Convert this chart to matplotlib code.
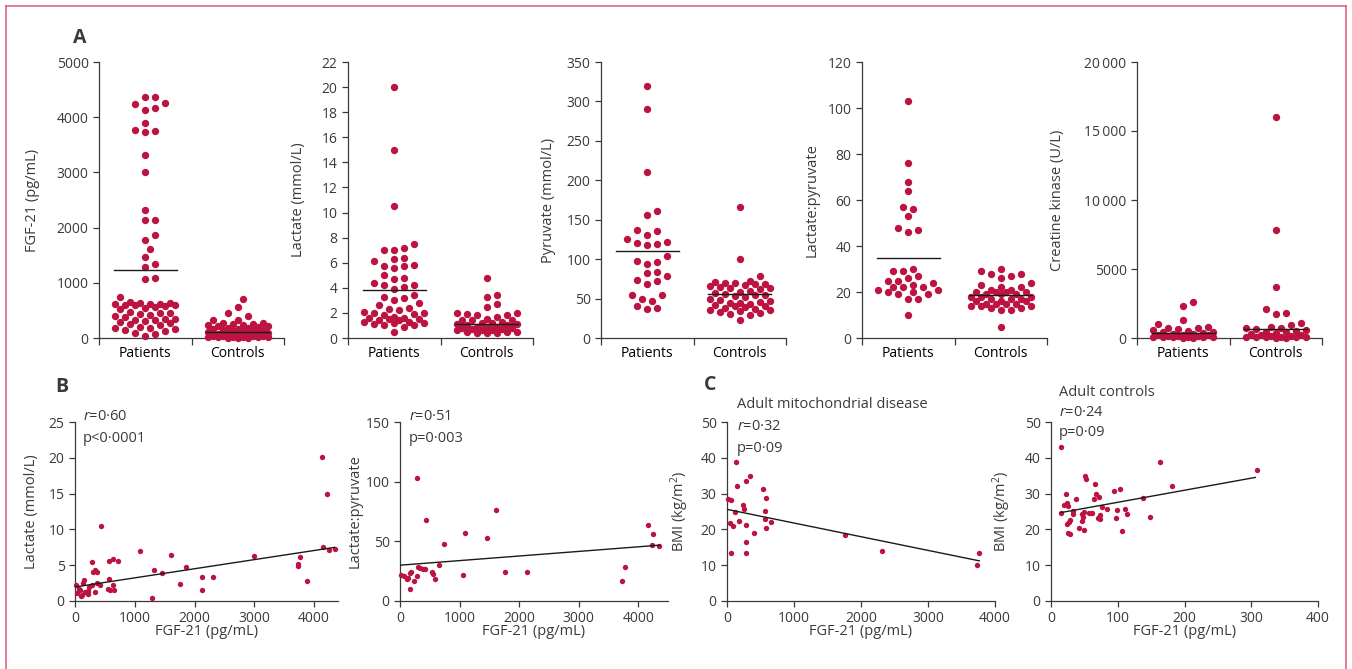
import numpy as np
import matplotlib.pyplot as plt
from matplotlib.lines import Line2D

plt.rcParams['font.family'] = ['Open Sans', 'DejaVu Sans']
plt.rcParams['mathtext.fontset'] = 'custom'
plt.rcParams['mathtext.rm'] = 'Open Sans'
plt.rcParams['mathtext.it'] = 'Open Sans:italic'
plt.rcParams['font.size'] = 10

W, H = 1352, 669
DOT = '#BC1340'
INK = '#3a3a3a'
FRAME = '#E2587A'

groups = ['Patients', 'Controls']

# ---- panel A data ----
fgf_pat = [4249, 4357, 4369, 4159, 4129, 4231, 3900, 3768, 3732, 3750, 3317, 2999,
           2326, 2133, 2145, 1869, 1773, 1611, 1472, 1334, 1286, 1076, 1088,
           734, 650, 640, 630, 625, 620, 610, 600, 595, 590, 580, 560, 540, 520,
           480, 460, 450, 430, 410, 400, 380, 350, 340, 330, 320, 300, 290, 280,
           260, 240, 200, 190, 180, 160, 140, 120, 90, 70, 40]
fgf_ctl = [703, 553, 451, 403, 330, 330, 270, 265, 260, 250, 240, 230, 220, 210,
           200, 190, 180, 170, 160, 150, 140, 130, 120, 110, 100, 90, 80, 70, 60,
           55, 50, 45, 40, 35, 30, 25, 20, 20, 15, 10, 10, 5, 5, 0]
fgf_means = [1238, 102]

lac_pat = [20, 15, 10.5, 7.5, 7.2, 7.0, 7.0, 6.4, 6.3, 6.1, 5.8, 5.7, 5.6, 5.7, 5.0,
           4.8, 4.7, 4.4, 4.2, 4.2, 4.1, 3.9, 3.4, 3.3, 3.2, 3.0, 2.8, 2.6, 2.4, 2.3,
           2.2, 2.1, 2.0, 2.0, 1.9, 1.8, 1.7, 1.6, 1.6, 1.5, 1.5, 1.4, 1.4, 1.3, 1.3,
           1.2, 1.2, 1.1, 1.0, 1.0, 0.9, 0.5]
lac_ctl = [4.8, 3.4, 3.3, 2.7, 2.5, 2.0, 2.0, 1.9, 1.8, 1.8, 1.7, 1.5, 1.4, 1.4, 1.4,
           1.3, 1.2, 1.2, 1.1, 1.1, 1.0, 1.0, 0.9, 0.9, 0.9, 0.8, 0.8, 0.7, 0.7, 0.6,
           0.6, 0.6, 0.5, 0.5, 0.5, 0.4, 0.4, 0.4]
lac_means = [3.85, 1.15]

pyr_pat = [320, 290, 210, 161, 156, 137, 136, 130, 125, 122, 121, 119, 118, 104, 98,
           97, 94, 84, 82, 78, 73, 72, 69, 55, 54, 50, 47, 40, 38, 37]
pyr_ctl = [166, 100, 78, 72, 71, 70, 70, 69, 68, 67, 66, 65, 64, 63, 62, 60, 58, 57,
           56, 55, 54, 53, 52, 50, 48, 47, 46, 45, 44, 43, 42, 41, 40, 39, 38, 37,
           36, 35, 34, 33, 32, 30, 29, 23]
pyr_means = [110, 56]

lp_pat = [103, 76, 68, 64, 57, 56, 53, 48, 47, 46, 30, 29, 29, 27, 26, 25, 25, 24,
          23, 22, 22, 22, 21, 21, 20, 20, 19, 19, 17, 17, 10]
lp_ctl = [30, 29, 28, 28, 27, 26, 24, 23, 22, 22, 21, 21, 20, 20, 20, 20, 19, 19, 19,
          18, 18, 18, 17, 17, 17, 16, 16, 16, 15, 15, 15, 15, 14, 14, 14, 13, 13, 12,
          12, 5]
lp_means = [34.7, 18.5]

ck_pat = [2600, 2300, 1300, 1000, 800, 750, 700, 650, 600, 500, 450, 400, 350, 300,
          300, 250, 200, 200, 150, 150, 120, 100, 100, 80, 60, 50, 40, 30, 20]
ck_ctl = [16000, 7800, 3700, 2100, 1800, 1750, 1100, 950, 800, 750, 700, 650, 600,
          500, 450, 400, 350, 300, 250, 200, 150, 120, 100, 100, 80, 60, 50, 40, 30, 20]
ck_means = [384, 624]

# ---- panel B data ----
b1_fgf = [4129, 4224, 4151, 4252, 4353, 3759, 3737, 3731, 3888, 2993, 1857, 1606,
          1460, 1326, 1281, 1762, 2120, 2120, 2316, 1085, 722, 436, 576, 632, 285,
          297, 342, 364, 571, 420, 375, 560, 587, 632, 655, 241, 285, 336, 151, 129,
          213, 84, 39, 17, 62, 112, 168, 224, 95]
b1_lac = [20.1, 15.0, 7.5, 7.1, 7.2, 6.1, 5.1, 4.9, 2.8, 6.3, 4.7, 6.4, 3.9, 4.3,
          0.47, 2.4, 3.4, 1.6, 3.3, 7.0, 5.65, 10.5, 5.6, 5.8, 5.5, 4.1, 4.3, 4.1,
          3.1, 2.3, 2.5, 1.7, 1.5, 2.3, 1.5, 2.0, 2.2, 1.3, 3.0, 2.5, 1.4, 1.5, 1.1,
          2.2, 1.7, 0.9, 1.3, 1.0, 0.75]
b1_fit = [1.96, 0.001273]
b1_fit_x = [0, 4340]

b2_fgf = [17, 67, 112, 140, 168, 185, 163, 236, 292, 303, 337, 393, 426, 533, 561,
          589, 662, 735, 438, 286, 1094, 1060, 1464, 1610, 1762, 2132, 3736, 3776,
          4163, 4240, 4230, 4350]
b2_lp = [21.9, 21, 18.8, 19.6, 23.8, 24.7, 9.8, 16.8, 21, 28.6, 27.8, 26.6, 26.4,
         24.7, 23, 18.8, 30, 47.7, 67.8, 103, 57, 22, 52.7, 76, 24.7, 24.7, 16.5, 28.6,
         64, 56, 47, 46]
b2_fit = [30.0, 0.00385]
b2_fit_x = [0, 4360]

# ---- panel C data ----
c1_fgf = [20, 55, 40, 90, 65, 120, 130, 154, 179, 239, 249, 289, 289, 279, 289, 339,
          398, 538, 563, 573, 588, 588, 658, 1758, 2316, 3736, 3766]
c1_bmi = [28.6, 28.1, 21.7, 21.0, 13.4, 25.0, 38.8, 32.1, 22.4, 26.8, 25.6, 33.5,
          21.1, 16.4, 13.5, 35.0, 19.0, 31.3, 25.1, 23.0, 28.8, 20.4, 22.0, 18.4,
          13.9, 10.1, 13.3]
c1_fit = [25.6, -0.00382]
c1_fit_x = [0, 3766]

c2_fgf = [15, 15, 20, 22, 24, 26, 24, 25, 27, 29, 29, 33, 33, 37, 42, 46, 47, 48, 49,
          50, 51, 53, 57, 61, 64, 66, 67, 70, 72, 74, 74, 76, 84, 95, 97, 99, 104,
          106, 111, 114, 138, 148, 163, 181, 308]
c2_bmi = [43.1, 24.5, 26.8, 29.8, 27.5, 26.4, 21.5, 19.1, 22.1, 22.6, 18.7, 25.1,
          24.4, 28.5, 20.5, 22.3, 24.4, 23.6, 19.8, 25.0, 34.8, 34.2, 24.5, 24.5,
          28.5, 32.7, 29.8, 23.3, 29.0, 24.1, 23.0, 26.3, 25.6, 30.6, 23.1, 25.5,
          31.4, 19.6, 25.6, 24.4, 28.9, 23.5, 38.8, 32.1, 36.5]
c2_fit = [24.2, 0.0337]
c2_fit_x = [15, 306]


def swarm(vals, center, ylim, h_px, unit_px, step_px=5.0, diam_px=8.5, kmax=6):
    """simple beeswarm: offsets on a horizontal grid, pixel-space collision check"""
    vals = np.asarray(vals, float)
    ypx = (vals - ylim[0]) / (ylim[1] - ylim[0]) * h_px
    cands = [0]
    for k in range(1, kmax + 1):
        cands += [k, -k]
    placed = []
    xs = np.zeros(len(vals))
    for i in np.argsort(vals):
        best, best_d = 0, -1.0
        for k in cands:
            x = k * step_px
            d = min([np.hypot(x - px, ypx[i] - py) for px, py in placed], default=1e9)
            if d >= diam_px:
                best = x
                break
            if d > best_d:
                best_d, best = d, x
        placed.append((best, ypx[i]))
        xs[i] = center + best / unit_px
    return xs


def px_axes(left, top, right, bottom):
    return fig.add_axes([left / W, 1 - bottom / H, (right - left) / W, (bottom - top) / H])


def style(ax):
    for s in ['top', 'right']:
        ax.spines[s].set_visible(False)
    for s in ['left', 'bottom']:
        ax.spines[s].set_color(INK)
        ax.spines[s].set_linewidth(0.9)
    ax.tick_params(colors=INK, width=0.9, length=4, direction='out', labelsize=10,
                   labelcolor=INK)
    ax.patch.set_alpha(0)


fig = plt.figure(figsize=(W / 100, H / 100), dpi=100)

# frame
for xs_, ys_ in [([6, 6], [6, H + 10]), ([6, 1346], [6, 6]), ([1346, 1346], [6, H + 10])]:
    fig.add_artist(Line2D([x / W for x in xs_], [1 - y / H for y in ys_],
                          color=FRAME, lw=1.1, transform=fig.transFigure))

# ---- panel A ----
a_specs = [
    (fgf_pat, fgf_ctl, fgf_means, 'FGF-21 (pg/mL)', 5000, 1000, 99, 32),
    (lac_pat, lac_ctl, lac_means, 'Lactate (mmol/L)', 22, 2, 348, 298),
    (pyr_pat, pyr_ctl, pyr_means, 'Pyruvate (mmol/L)', 350, 50, 601, 548),
    (lp_pat, lp_ctl, lp_means, 'Lactate:pyruvate', 120, 20, 862, 812),
    (ck_pat, ck_ctl, ck_means, 'Creatine kinase (U/L)', 20000, 5000, 1137, 1057),
]
a_top, a_bot, a_w = 62, 338, 185
for pat, ctl, means, lab, ymax, step, left, lab_x in a_specs:
    ax = px_axes(left, a_top, left + a_w, a_bot)
    style(ax)
    ax.set_xlim(0, 2)
    ax.set_ylim(0, ymax)
    unit = a_w / 2.0
    for j, vals in enumerate([pat, ctl]):
        xs = swarm(vals, 0.5 + j, (0, ymax), a_bot - a_top, unit)
        ax.scatter(xs, vals, s=28, color=DOT, lw=0, zorder=3, clip_on=False)
        ax.plot([j + 0.16, j + 0.84], [means[j], means[j]], color='#1a1a1a', lw=1.0,
                zorder=4)
    ax.set_xticks([0, 1, 2])
    ax.set_xticklabels([])
    ax.set_xticks([0.5, 1.5], minor=True)
    ax.set_xticklabels(groups, minor=True)
    ax.tick_params(axis='x', which='minor', length=0, pad=6)
    ax.tick_params(axis='x', which='major', length=5)
    yt = np.arange(0, ymax + step / 2, step)
    ax.set_yticks(yt)
    if ymax >= 10000:
        ax.set_yticklabels([f'{int(v):,}'.replace(',', '\u2009') if v >= 10000
                            else f'{int(v)}' for v in yt])
    ax.set_ylabel(lab, fontsize=10.5, color=INK)
    ax.yaxis.set_label_coords((lab_x + 8 - left) / a_w, 0.5)

# ---- panels B and C ----
sc_top, sc_bot = 422, 601
sc_specs = [
    (b1_fgf, b1_lac, b1_fit, b1_fit_x, 75, 338, 4400, 25, 5, 'Lactate (mmol/L)', 31),
    (b2_fgf, b2_lp, b2_fit, b2_fit_x, 400, 668, 4500, 150, 50, 'Lactate:pyruvate', 355),
    (c1_fgf, c1_bmi, c1_fit, c1_fit_x, 727, 995, 4000, 50, 10, 'BMI (kg/m$^2$)', 683),
    (c2_fgf, c2_bmi, c2_fit, c2_fit_x, 1051, 1318, 400, 50, 10, 'BMI (kg/m$^2$)', 1005),
]
for xv, yv, fit, fit_x, left, right, xmax, ymax, ystep, lab, lab_x in sc_specs:
    ax = px_axes(left, sc_top, right, sc_bot)
    style(ax)
    ax.set_xlim(0, xmax)
    ax.set_ylim(0, ymax)
    ax.scatter(xv, yv, s=15, color=DOT, lw=0, zorder=3, clip_on=False)
    fx = np.array(fit_x, float)
    ax.plot(fx, fit[0] + fit[1] * fx, color='#1a1a1a', lw=1.0, zorder=4)
    xstep = 1000 if xmax > 1000 else 100
    ax.set_xticks(np.arange(0, xmax + 1, xstep)[:5])
    ax.set_yticks(np.arange(0, ymax + ystep / 2, ystep))
    ax.set_xlabel('FGF-21 (pg/mL)', fontsize=10.5, color=INK)
    ax.xaxis.set_label_coords(0.5, -(624 - sc_bot) / (sc_bot - sc_top))
    ax.set_ylabel(lab, fontsize=10.5, color=INK)
    ax.yaxis.set_label_coords((lab_x + 8 - left) / (right - left), 0.5)


def ftext(x, y, s, **kw):
    fig.text(x / W, 1 - y / H, s, va='center', ha='left', color=INK, **kw)


ftext(73, 38, 'A', fontsize=14, fontweight='bold')
ftext(55, 387, 'B', fontsize=14, fontweight='bold')
ftext(704, 385, 'C', fontsize=14, fontweight='bold')

ftext(83, 416, r'$\mathit{r}$=0·60', fontsize=10.5)
ftext(83, 438, 'p<0·0001', fontsize=10.5)
ftext(409, 416, r'$\mathit{r}$=0·51', fontsize=10.5)
ftext(409, 438, 'p=0·003', fontsize=10.5)
ftext(737, 405, 'Adult mitochondrial disease', fontsize=10.5)
ftext(737, 427, r'$\mathit{r}$=0·32', fontsize=10.5)
ftext(737, 448, 'p=0·09', fontsize=10.5)
ftext(1059, 393, 'Adult controls', fontsize=10.5)
ftext(1059, 412, r'$\mathit{r}$=0·24', fontsize=10.5)
ftext(1059, 433, 'p=0·09', fontsize=10.5)

fig.savefig('out.png', dpi=100, facecolor='white')
